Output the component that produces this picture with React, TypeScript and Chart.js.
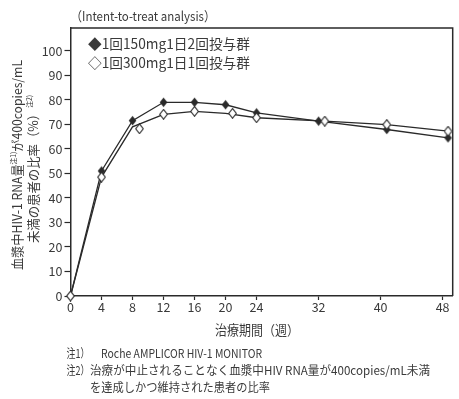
import React, { useEffect, useRef } from "react";
import { Chart, registerables } from "chart.js";

Chart.register(...registerables);

// ---- data ----
const xTicks = [0, 4, 8, 12, 16, 20, 24, 32, 40, 48];
const yTicks = [0, 10, 20, 30, 40, 50, 60, 70, 80, 90, 100];
// week positions as plotted in the original figure (late points drawn slightly right)
const bid150Weeks = [0, 4, 8, 12, 16, 20, 24, 32, 40.8, 48.7];
const bid150 = [0, 51, 71.5, 79, 79, 78, 74.7, 71.3, 67.9, 64.5];
const qd300LineWeeks = [0, 4, 8, 12, 16, 20, 24, 32.8, 40.8, 48.7];
const qd300 = [0, 48.5, 69, 74.1, 75.3, 74.5, 72.7, 71.3, 69.9, 67.2];
const qd300MarkerWeeks = [0, 4, 8.9, 12, 16, 20.9, 24, 32.8, 40.8, 48.7];
const qd300MarkerValues = [0, 48.5, 68.2, 74.1, 75.3, 74.5, 72.7, 71.3, 69.9, 67.2];

const titleText = "（Intent-to-treat analysis）";
const legendLabels = ["◆1回150mg1日2回投与群", "◇1回300mg1日1回投与群"];
const xTitle = "治療期間（週）";
const yTitleLine1 = [
  { t: "血漿中HIV-1 RNA量", sup: false },
  { t: "注1)", sup: true },
  { t: "が400copies/mL", sup: false },
];
const yTitleLine2 = [
  { t: "未満の患者の比率（%）", sup: false },
  { t: "注2)", sup: true },
];
const noteMarks = ["注1）", "注2）"];
const noteTexts = [
  "Roche AMPLICOR HIV-1 MONITOR",
  "治療が中止されることなく血漿中HIV RNA量が400copies/mL未満",
  "を達成しかつ維持された患者の比率",
];

const FAM = '"Noto Sans CJK JP", "Noto Sans", sans-serif';
const INK = "#2a2a2a";
const TXT = "#3a3a3a";

type Seg = { t: string; sup: boolean };

function drawRich(
  ctx: CanvasRenderingContext2D,
  segs: Seg[],
  x: number,
  y: number,
  width: number,
  align: "left" | "center",
  size: number
) {
  let total = 0;
  const ws = segs.map((s) => {
    ctx.font = `${s.sup ? size * 0.55 : size}px ${FAM}`;
    const w = ctx.measureText(s.t).width;
    total += w;
    return w;
  });
  const sc = width / total;
  ctx.save();
  ctx.translate(align === "center" ? x - width / 2 : x, y);
  ctx.scale(sc, 1);
  ctx.textBaseline = "middle";
  ctx.textAlign = "left";
  ctx.fillStyle = TXT;
  let cx = 0;
  segs.forEach((s, i) => {
    ctx.font = `${s.sup ? size * 0.55 : size}px ${FAM}`;
    ctx.fillText(s.t, cx, s.sup ? -size * 0.3 : 0);
    cx += ws[i];
  });
  ctx.restore();
}

function makeDiamond(filled: boolean) {
  const w = 9;
  const h = 11;
  const c = document.createElement("canvas");
  c.width = w;
  c.height = h;
  const g = c.getContext("2d")!;
  g.beginPath();
  g.moveTo(w / 2, 0.7);
  g.lineTo(w - 0.7, h / 2);
  g.lineTo(w / 2, h - 0.7);
  g.lineTo(0.7, h / 2);
  g.closePath();
  if (filled) {
    g.fillStyle = INK;
    g.fill();
  } else {
    g.fillStyle = "#fff";
    g.fill();
    g.strokeStyle = INK;
    g.lineWidth = 1.1;
    g.stroke();
  }
  return c;
}

const decorPlugin = {
  id: "decor",
  beforeDatasetsDraw(chart: any) {
    const { ctx, chartArea } = chart;
    ctx.save();
    ctx.strokeStyle = INK;
    ctx.lineWidth = 1.5;
    ctx.beginPath();
    ctx.moveTo(chartArea.left, chartArea.top);
    ctx.lineTo(chartArea.right, chartArea.top);
    ctx.lineTo(chartArea.right, chartArea.bottom);
    ctx.stroke();
    ctx.restore();
  },
  afterDraw(chart: any) {
    const ctx: CanvasRenderingContext2D = chart.ctx;
    ctx.save();
    // title
    drawRich(ctx, [{ t: titleText, sup: false }], 70.5, 16, 145, "left", 13);
    // legend
    drawRich(ctx, [{ t: legendLabels[0], sup: false }], 88, 44, 162, "left", 14);
    drawRich(ctx, [{ t: legendLabels[1], sup: false }], 88, 63, 162, "left", 14);
    // x title
    drawRich(ctx, [{ t: xTitle, sup: false }], 257, 330, 84, "center", 13.5);
    // y title (rotated)
    ctx.save();
    ctx.translate(17, 165);
    ctx.rotate(-Math.PI / 2);
    drawRich(ctx, yTitleLine1, 0, 0, 210, "center", 13);
    ctx.restore();
    ctx.save();
    ctx.translate(33, 169);
    ctx.rotate(-Math.PI / 2);
    drawRich(ctx, yTitleLine2, 0, 0, 148, "center", 13);
    ctx.restore();
    // footnotes
    drawRich(ctx, [{ t: noteMarks[0], sup: false }], 66.5, 353, 23, "left", 12);
    drawRich(ctx, [{ t: noteTexts[0], sup: false }], 101, 353, 161, "left", 12);
    drawRich(ctx, [{ t: noteMarks[1], sup: false }], 66.5, 370, 23, "left", 12);
    drawRich(ctx, [{ t: noteTexts[1], sup: false }], 90, 370, 340, "left", 12);
    drawRich(ctx, [{ t: noteTexts[2], sup: false }], 90, 387, 180, "left", 12);
    ctx.restore();
  },
};

export default function App() {
  const ref = useRef<HTMLCanvasElement | null>(null);
  useEffect(() => {
    if (!ref.current) return;
    const filled = makeDiamond(true);
    const open = makeDiamond(false);
    const chart = new Chart(ref.current, {
      type: "line",
      data: {
        datasets: [
          {
            label: "qd300 markers",
            data: qd300MarkerWeeks.map((w, i) => ({ x: w, y: qd300MarkerValues[i] })),
            showLine: false,
            pointStyle: open as any,
            pointRadius: 5,
            order: 0,
            clip: false as any,
          },
          {
            label: legendLabels[0],
            data: bid150Weeks.map((w, i) => ({ x: w, y: bid150[i] })),
            borderColor: INK,
            borderWidth: 1.3,
            pointStyle: filled as any,
            pointRadius: 5,
            tension: 0,
            order: 1,
            clip: false as any,
          },
          {
            label: legendLabels[1],
            data: qd300LineWeeks.map((w, i) => ({ x: w, y: qd300[i] })),
            borderColor: INK,
            borderWidth: 1.3,
            pointRadius: 0,
            tension: 0,
            order: 2,
            clip: false as any,
          },
        ],
      },
      options: {
        animation: false,
        responsive: false,
        devicePixelRatio: 1,
        events: [],
        layout: { padding: { top: 28, right: 1, left: 0, bottom: 0 } },
        plugins: {
          legend: { display: false },
          tooltip: { enabled: false },
          title: { display: false },
        },
        scales: {
          x: {
            type: "linear",
            min: 0,
            max: 49.3,
            afterBuildTicks: (s: any) => {
              s.ticks = xTicks.map((v) => ({ value: v }));
            },
            afterFit: (s: any) => {
              s.height = 399 - 296;
            },
            border: { display: true, color: INK, width: 1.5 },
            grid: { drawOnChartArea: false, drawTicks: true, tickLength: 4, color: INK, tickWidth: 1.2 },
            ticks: {
              autoSkip: false,
              maxRotation: 0,
              padding: 0,
              color: TXT,
              font: { family: FAM, size: 12.5 },
            },
          },
          y: {
            type: "linear",
            min: 0,
            max: 109.3,
            afterBuildTicks: (s: any) => {
              s.ticks = yTicks.map((v) => ({ value: v }));
            },
            afterFit: (s: any) => {
              s.width = 70.5;
            },
            border: { display: true, color: INK, width: 1.5 },
            grid: { drawOnChartArea: false, drawTicks: true, tickLength: 6, color: INK, tickWidth: 1.2 },
            ticks: {
              autoSkip: false,
              padding: 2,
              color: TXT,
              font: { family: FAM, size: 12.5 },
            },
          },
        },
      },
      plugins: [decorPlugin],
    });
    return () => chart.destroy();
  }, []);
  return (
    <div style={{ position: "absolute", left: 0, top: 0, width: 459, height: 399, background: "#fff" }}>
      <canvas ref={ref} width={459} height={399} style={{ display: "block" }} />
    </div>
  );
}
